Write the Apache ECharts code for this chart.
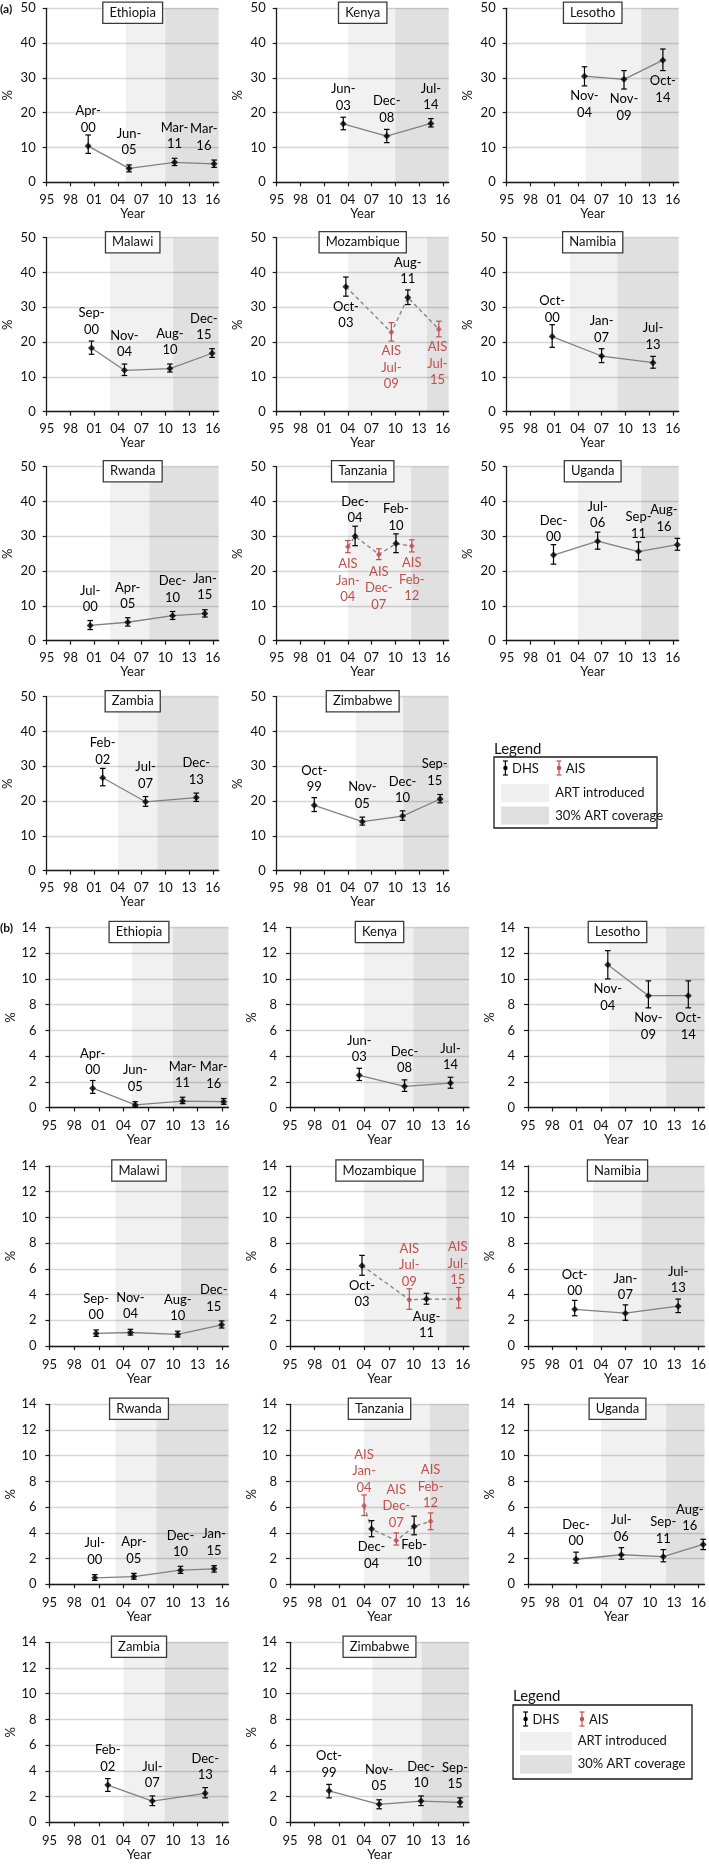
<!DOCTYPE html>
<html><head><meta charset="utf-8">
<script src="https://cdn.jsdelivr.net/npm/echarts@6/dist/echarts.min.js"></script>
<style>html,body{margin:0;padding:0;background:#fff}#c{width:709px;height:1867px}</style>
</head><body><div id="c"></div>
<script>
// ---------------- DATA ----------------
const countries = ['Ethiopia','Kenya','Lesotho','Malawi','Mozambique','Namibia','Rwanda','Tanzania','Uganda','Zambia','Zimbabwe'];
const artIntroducedYear = [2005,2004,2005,2003,2004,2003,2003,2004,2004,2004,2005];
const art30CoverageYear = [2010,2010,2012,2011,2014,2009,2008,2012,2012,2009,2011];
const yearTicks = [1995,1998,2001,2004,2007,2010,2013,2016];

// survey dates
const ethiopiaDhsDates   = ['Apr-00','Jun-05','Mar-11','Mar-16'];
const kenyaDhsDates      = ['Jun-03','Dec-08','Jul-14'];
const lesothoDhsDates    = ['Nov-04','Nov-09','Oct-14'];
const malawiDhsDates     = ['Sep-00','Nov-04','Aug-10','Dec-15'];
const mozambiqueDhsDates = ['Oct-03','Aug-11'];
const mozambiqueAisDates = ['Jul-09','Jul-15'];
const namibiaDhsDates    = ['Oct-00','Jan-07','Jul-13'];
const rwandaDhsDates     = ['Jul-00','Apr-05','Dec-10','Jan-15'];
const tanzaniaDhsDates   = ['Dec-04','Feb-10'];
const tanzaniaAisDates   = ['Jan-04','Dec-07','Feb-12'];
const ugandaDhsDates     = ['Dec-00','Jul-06','Sep-11','Aug-16'];
const zambiaDhsDates     = ['Feb-02','Jul-07','Dec-13'];
const zimbabweDhsDates   = ['Oct-99','Nov-05','Dec-10','Sep-15'];

// panel (a): [estimate %, lower CI, upper CI]
const ethiopiaA   = [[10.4,8.3,13.6],[4.0,3.0,5.0],[5.75,4.8,6.9],[5.3,4.3,6.4]];
const kenyaA      = [[16.8,15.1,18.7],[13.3,11.4,15.2],[16.9,15.9,18.3]];
const lesothoA    = [[30.5,27.7,33.2],[29.6,26.8,32.1],[35.1,32.1,38.3]];
const malawiA     = [[18.3,16.5,20.3],[11.9,10.4,13.7],[12.4,11.4,13.7],[16.8,15.6,18.1]];
const mozambiqueA = [[35.9,33.2,38.7],[32.8,30.8,35.0]];
const mozambiqueAisA = [[22.8,20.3,25.6],[23.7,21.5,26.0]];
const namibiaA    = [[21.6,18.5,25.0],[16.0,14.1,18.1],[14.1,12.5,15.9]];
const rwandaA     = [[4.4,3.2,5.8],[5.3,4.2,6.6],[7.2,6.1,8.4],[7.8,6.8,8.9]];
const tanzaniaA   = [[30.0,27.3,32.9],[27.9,25.3,30.7]];
const tanzaniaAisA = [[27.0,25.3,28.8],[24.8,23.3,26.4],[27.2,25.5,29.0]];
const ugandaA     = [[24.6,22.0,27.6],[28.6,26.3,31.2],[25.6,23.2,28.4],[27.6,26.0,29.4]];
const zambiaA     = [[26.7,24.4,29.4],[19.8,18.5,21.3],[21.0,19.9,22.3]];
const zimbabweA   = [[18.8,17.0,21.0],[14.1,13.1,15.4],[15.7,14.5,17.2],[20.6,19.5,21.9]];

// panel (b): [estimate %, lower CI, upper CI]
const ethiopiaB   = [[1.5,1.1,2.1],[0.2,0.05,0.45],[0.5,0.3,0.8],[0.45,0.25,0.7]];
const kenyaB      = [[2.5,2.1,3.05],[1.65,1.25,2.15],[1.9,1.5,2.35]];
const lesothoB    = [[11.1,10.0,12.2],[8.7,7.75,9.85],[8.7,7.75,9.85]];
const malawiB     = [[0.98,0.75,1.25],[1.05,0.85,1.3],[0.9,0.7,1.15],[1.65,1.4,1.95]];
const mozambiqueB = [[6.25,5.5,7.05],[3.65,3.25,4.1]];
const mozambiqueAisB = [[3.6,2.85,4.45],[3.65,2.95,4.55]];
const namibiaB    = [[2.85,2.35,3.55],[2.55,2.0,3.2],[3.1,2.6,3.65]];
const rwandaB     = [[0.5,0.3,0.75],[0.6,0.4,0.85],[1.1,0.85,1.4],[1.2,0.95,1.45]];
const tanzaniaB   = [[4.3,3.7,4.95],[4.5,3.85,5.3]];
const tanzaniaAisB = [[6.1,5.35,6.95],[3.4,3.05,4.0],[4.9,4.25,5.55]];
const ugandaB     = [[1.95,1.65,2.5],[2.3,1.95,2.85],[2.15,1.75,2.7],[3.1,2.7,3.5]];
const zambiaB     = [[2.9,2.4,3.4],[1.65,1.3,2.05],[2.25,1.9,2.7]];
const zimbabweB   = [[2.45,1.9,2.95],[1.4,1.05,1.75],[1.65,1.3,2.05],[1.55,1.2,1.9]];

// ---------------- STYLE / LAYOUT ----------------
const FONT = 'Lato, "Open Sans", sans-serif';
const XMIN = 1995, XMAX = 2016.75;
const LIGHT = 'rgba(0,0,0,0.055)', DARK = 'rgba(0,0,0,0.12)';
const RED = '#c0504d';
// label side (t = above, b = below); default above
const sideA = { Lesotho:{dhs:'bbb'}, Mozambique:{dhs:'bt', ais:'bb'}, Tanzania:{dhs:'tt', ais:'bbb'} };
const sideB = { Lesotho:{dhs:'bbb'}, Mozambique:{dhs:'bb', ais:'tt'}, Tanzania:{dhs:'bb', ais:'ttt'} };

const geoA = { lefts:[46.7,276.7,506.7], width:172, tops:[8.3,237.7,466.7,696.7], height:174, ymax:50, yint:10, nameGap:23.5, labMargin:11, yMargin:11 };
const geoB = { lefts:[49.5,290,528], width:179, tops:[927.5,1166,1404.3,1642.3], height:180, ymax:14, yint:2, nameGap:25, labMargin:12, yMargin:13 };

const monthIdx = {Jan:0,Feb:1,Mar:2,Apr:3,May:4,Jun:5,Jul:6,Aug:7,Sep:8,Oct:9,Nov:10,Dec:11};
function dateToYear(s){ const [m, yy] = s.split('-'); const y = +yy; return (y >= 90 ? 1900 + y : 2000 + y) + monthIdx[m] / 12; }
function labelText(s, ais){ const [m, yy] = s.split('-'); return (ais ? 'AIS\n' : '') + m + '-\n' + yy; }

const mctx = document.createElement('canvas').getContext('2d');
function textWidth(t){ mctx.font = '13px ' + FONT; return Math.max(...t.split('\n').map(l => mctx.measureText(l).width)); }

const panelsA = [
  {dd:ethiopiaDhsDates, d:ethiopiaA}, {dd:kenyaDhsDates, d:kenyaA}, {dd:lesothoDhsDates, d:lesothoA},
  {dd:malawiDhsDates, d:malawiA}, {dd:mozambiqueDhsDates, d:mozambiqueA, ad:mozambiqueAisDates, a:mozambiqueAisA},
  {dd:namibiaDhsDates, d:namibiaA}, {dd:rwandaDhsDates, d:rwandaA},
  {dd:tanzaniaDhsDates, d:tanzaniaA, ad:tanzaniaAisDates, a:tanzaniaAisA},
  {dd:ugandaDhsDates, d:ugandaA}, {dd:zambiaDhsDates, d:zambiaA}, {dd:zimbabweDhsDates, d:zimbabweA}
];
const panelsB = [
  {dd:ethiopiaDhsDates, d:ethiopiaB}, {dd:kenyaDhsDates, d:kenyaB}, {dd:lesothoDhsDates, d:lesothoB},
  {dd:malawiDhsDates, d:malawiB}, {dd:mozambiqueDhsDates, d:mozambiqueB, ad:mozambiqueAisDates, a:mozambiqueAisB},
  {dd:namibiaDhsDates, d:namibiaB}, {dd:rwandaDhsDates, d:rwandaB},
  {dd:tanzaniaDhsDates, d:tanzaniaB, ad:tanzaniaAisDates, a:tanzaniaAisB},
  {dd:ugandaDhsDates, d:ugandaB}, {dd:zambiaDhsDates, d:zambiaB}, {dd:zimbabweDhsDates, d:zimbabweB}
];

function makeErrRender(labels, sides, color){
  return function(params, api){
    const i = params.dataIndex;
    const x = api.value(0), v = api.value(1), lo = api.value(2), hi = api.value(3);
    const p = api.coord([x, v]), a = api.coord([x, lo]), b = api.coord([x, hi]);
    const cs = params.coordSys; const cw = 2.8;
    const st = {stroke: color, lineWidth: 1.2};
    const els = [
      {type:'line', shape:{x1:a[0], y1:a[1], x2:b[0], y2:b[1]}, style:st},
      {type:'line', shape:{x1:a[0]-cw, y1:a[1], x2:a[0]+cw, y2:a[1]}, style:st},
      {type:'line', shape:{x1:b[0]-cw, y1:b[1], x2:b[0]+cw, y2:b[1]}, style:st}
    ];
    const txt = labels[i]; const w = textWidth(txt);
    const cx = Math.min(p[0], cs.x + cs.width - w / 2 - 1);
    let ty, va;
    if (sides[i] === 'b') { ty = Math.max(a[1] + 2, p[1] + 9); va = 'top'; }
    else { ty = Math.min(b[1] + 1, p[1] - 10); va = 'bottom'; }
    els.push({type:'text', x:cx, y:ty, style:{text:txt, fill: color === RED ? RED : '#000', font:'13px ' + FONT, align:'center', verticalAlign:va, lineHeight:16.5}});
    return {type:'group', children:els};
  };
}

const option = { animation:false, backgroundColor:'#fff', grid:[], xAxis:[], yAxis:[], series:[], graphic:[] };

function addSection(panels, geo, sides){
  panels.forEach((pn, i) => {
    const name = countries[i];
    const row = Math.floor(i / 3), col = i % 3;
    const gi = option.grid.length;
    const left = geo.lefts[col], top = geo.tops[row];
    option.grid.push({left, top, width:geo.width, height:geo.height});
    option.xAxis.push({
      gridIndex:gi, type:'value', min:XMIN, max:XMAX, interval:3,
      axisLine:{show:true, lineStyle:{color:'#1a1a1a', width:1.3}},
      axisTick:{show:true, length:4, lineStyle:{color:'#1a1a1a', width:1.2}},
      axisLabel:{show:true, fontSize:13, fontFamily:FONT, color:'#111', margin:geo.labMargin,
        showMaxLabel:false, formatter: v => yearTicks.includes(v) ? String(v % 100).padStart(2,'0') : ''},
      splitLine:{show:false},
      name:'Year', nameLocation:'middle', nameGap:geo.nameGap, nameTextStyle:{fontSize:13, fontFamily:FONT, color:'#111'}
    });
    option.yAxis.push({
      gridIndex:gi, type:'value', min:0, max:geo.ymax, interval:geo.yint,
      axisLine:{show:true, lineStyle:{color:'#1a1a1a', width:1.3}},
      axisTick:{show:true, length:4, lineStyle:{color:'#1a1a1a', width:1.2}},
      axisLabel:{fontSize:13, fontFamily:FONT, color:'#111', margin:geo.yMargin},
      splitLine:{show:true, lineStyle:{color:'#d6d6d6', width:1.3}},
      name:'%', nameLocation:'middle', nameGap:32, nameRotate:90, nameTextStyle:{fontSize:13, fontFamily:FONT, color:'#111'}
    });
    // shading
    option.series.push({
      type:'custom', xAxisIndex:gi, yAxisIndex:gi, z:1, silent:true,
      data:[[artIntroducedYear[i], art30CoverageYear[i]], [art30CoverageYear[i], XMAX]],
      encode:{x:[0,1]},
      renderItem:(params, api) => {
        const cs = params.coordSys;
        const x0 = api.coord([api.value(0), 0])[0], x1 = api.coord([api.value(1), 0])[0];
        return {type:'rect', shape:{x:x0, y:cs.y, width:x1 - x0, height:cs.height}, style:{fill: params.dataIndex === 0 ? LIGHT : DARK}};
      }
    });
    const dhs = pn.dd.map((s, k) => [dateToYear(s), pn.d[k][0], pn.d[k][1], pn.d[k][2]]);
    const ais = pn.ad ? pn.ad.map((s, k) => [dateToYear(s), pn.a[k][0], pn.a[k][1], pn.a[k][2]]) : [];
    const all = dhs.concat(ais).sort((p, q) => p[0] - q[0]).map(p => [p[0], p[1]]);
    option.series.push({
      type:'line', xAxisIndex:gi, yAxisIndex:gi, z:2, silent:true, showSymbol:false, data:all,
      lineStyle:{color:'#808080', width:1.3, type: ais.length ? [4,3] : 'solid'}
    });
    const sd = (sides[name] && sides[name].dhs) || 'tttt';
    option.series.push({
      type:'custom', xAxisIndex:gi, yAxisIndex:gi, z:3, silent:true, data:dhs, encode:{x:0, y:[1,2,3]},
      renderItem: makeErrRender(pn.dd.map(s => labelText(s, false)), sd, '#000')
    });
    option.series.push({
      type:'scatter', xAxisIndex:gi, yAxisIndex:gi, z:4, silent:true, symbol:'diamond', symbolSize:7,
      itemStyle:{color:'#000'}, data:dhs.map(p => [p[0], p[1]])
    });
    if (ais.length) {
      const sa = (sides[name] && sides[name].ais) || 'ttt';
      option.series.push({
        type:'custom', xAxisIndex:gi, yAxisIndex:gi, z:3, silent:true, data:ais, encode:{x:0, y:[1,2,3]},
        renderItem: makeErrRender(pn.ad.map(s => labelText(s, true)), sa, RED)
      });
      option.series.push({
        type:'scatter', xAxisIndex:gi, yAxisIndex:gi, z:4, silent:true, symbol:'diamond', symbolSize:6,
        itemStyle:{color:RED}, data:ais.map(p => [p[0], p[1]])
      });
    }
    // country title box
    option.graphic.push({type:'text', x:left + geo.width / 2, y:top + 4.5, z:50,
      style:{text:name, font:'13px ' + FONT, fill:'#111', align:'center', verticalAlign:'middle',
        backgroundColor:'#fff', borderColor:'#3a3a3a', borderWidth:1.3, padding:[4,6,3,6]}});
  });
}

addSection(panelsA, geoA, sideA);
addSection(panelsB, geoB, sideB);

function legend(L, T, W, H, g){
  const out = [];
  out.push({type:'text', x:L, y:T + g.titleDy, z:50, style:{text:'Legend', font:'15px ' + FONT, fill:'#111', align:'left', verticalAlign:'middle'}});
  out.push({type:'rect', z:50, shape:{x:L, y:T, width:W, height:H}, style:{fill:'#fff', stroke:'#1a1a1a', lineWidth:1.3}});
  const bar = (x, y, c) => [
    {type:'line', z:51, shape:{x1:x, y1:y - 7, x2:x, y2:y + 7}, style:{stroke:c, lineWidth:1.2}},
    {type:'line', z:51, shape:{x1:x - 2.5, y1:y - 7, x2:x + 2.5, y2:y - 7}, style:{stroke:c, lineWidth:1.2}},
    {type:'line', z:51, shape:{x1:x - 2.5, y1:y + 7, x2:x + 2.5, y2:y + 7}, style:{stroke:c, lineWidth:1.2}},
    {type:'circle', z:52, shape:{cx:x, cy:y, r:2.2}, style:{fill:c}}
  ];
  out.push(...bar(L + g.dhsX, T + g.row1, '#000'));
  out.push({type:'text', z:51, x:L + g.dhsT, y:T + g.row1 + 1, style:{text:'DHS', font:'13px ' + FONT, fill:'#111', verticalAlign:'middle'}});
  out.push(...bar(L + g.aisX, T + g.row1, RED));
  out.push({type:'text', z:51, x:L + g.aisT, y:T + g.row1 + 1, style:{text:'AIS', font:'13px ' + FONT, fill:'#111', verticalAlign:'middle'}});
  out.push({type:'rect', z:51, shape:{x:L + g.swX, y:T + g.sw1y, width:g.swW, height:g.swH}, style:{fill:'#f0f0f0'}});
  out.push({type:'rect', z:51, shape:{x:L + g.swX, y:T + g.sw2y, width:g.swW, height:g.swH}, style:{fill:'#e0e0e0'}});
  out.push({type:'text', z:51, x:L + g.txtX, y:T + g.sw1y + g.swH / 2, style:{text:'ART introduced', font:'13px ' + FONT, fill:'#111', verticalAlign:'middle'}});
  out.push({type:'text', z:51, x:L + g.txtX, y:T + g.sw2y + g.swH / 2, style:{text:'30% ART coverage', font:'13px ' + FONT, fill:'#111', verticalAlign:'middle'}});
  return out;
}
option.graphic.push(...legend(494, 757, 163, 71, {titleDy:-8, row1:11, dhsX:11.4, dhsT:18, aisX:65, aisT:71.7, swX:7, swW:48, swH:18, sw1y:27, sw2y:49.5, txtX:61.3}));
option.graphic.push(...legend(513, 1705, 179, 74, {titleDy:-8.5, row1:14, dhsX:12.6, dhsT:19.4, aisX:69, aisT:76, swX:7, swW:52, swH:18.5, sw1y:27, sw2y:50, txtX:64.7}));

option.graphic.push({type:'text', x:0, y:9, z:50, style:{text:'(a)', font:'bold 12px ' + FONT, fill:'#111', verticalAlign:'middle'}});
option.graphic.push({type:'text', x:0, y:928, z:50, style:{text:'(b)', font:'bold 12px ' + FONT, fill:'#111', verticalAlign:'middle'}});

const chart = echarts.init(document.getElementById('c'), null, {renderer:'canvas', width:709, height:1867});
chart.setOption(option);
</script></body></html>
